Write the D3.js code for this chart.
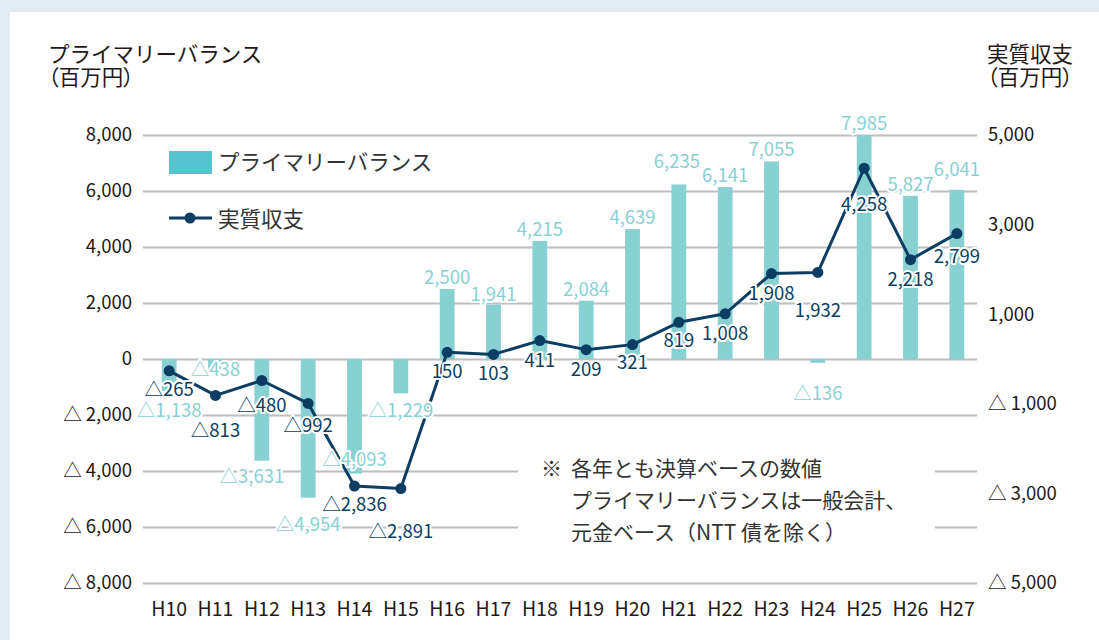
<!DOCTYPE html>
<html><head><meta charset="utf-8">
<script src="https://cdn.jsdelivr.net/npm/d3@7"></script>
<style>
html,body{margin:0;padding:0;background:#e3ebf2;}
svg{display:block;}
text{font-family:"Noto Sans CJK JP","Noto Sans",sans-serif;}
</style></head>
<body>
<svg id="chart" width="1099" height="640"></svg>
<script>
// ---- data ----
const categories = ["H10","H11","H12","H13","H14","H15","H16","H17","H18","H19","H20","H21","H22","H23","H24","H25","H26","H27"];
const primaryBalance = [-1138,-438,-3631,-4954,-4093,-1229,2500,1941,4215,2084,4639,6235,6141,7055,-136,7985,5827,6041];
const realBalance = [-265,-813,-480,-992,-2836,-2891,150,103,411,209,321,819,1008,1908,1932,4258,2218,2799];
const leftTicks = [8000,6000,4000,2000,0,-2000,-4000,-6000,-8000];
const rightTicks = [5000,3000,1000,-1000,-3000,-5000];
const seriesNames = ["プライマリーバランス","実質収支"];
const leftTitle = ["プライマリーバランス","（百万円）"];
const rightTitle = ["実質収支","（百万円）"];
const noteMark = "※";
const noteLines = ["各年とも決算ベースの数値","プライマリーバランスは一般会計、","元金ベース（NTT 債を除く）"];

// ---- label nudges (layout only) ----
const barLabelNudge = {H11:[0,-19],H10:[0,2],H12:[-10,-2],H13:[0,9],H14:[0,-32],H21:[-2,-11],H24:[0,13],H27:[0,-9],H17:[0,1]};
const lineLabelNudge = {H10:[0,-1],H11:[0,16],H12:[0,5],H13:[0,3],H14:[0,-1],H15:[0,23],H24:[0,19],H25:[0,17],H27:[0,3],H20:[0,-2],H21:[0,-1]};

const svg = d3.select("#chart");
const BAR = "#88d1d3", LEG = "#55c4cf", NAVY = "#0b3e62", GRID = "#bdbdc2", INK = "#231815";
const NUMFONT = "18.5px";

svg.append("rect").attr("x",10).attr("y",12).attr("width",1089).attr("height",628).attr("fill","#fff");

const x = d3.scaleBand().domain(categories).range([146,980]).paddingInner(0.68).paddingOuter(0.34);
const y = d3.scaleLinear().domain([-8000,8000]).range([583,135]);
const y2 = d3.scaleLinear().domain([-5000,5000]).range([583,135]);
const cx = c => x(c) + x.bandwidth()/2;
const fmt = d3.format(",");
const tri = v => v < 0 ? "△" + fmt(-v) : fmt(v);
const triAxis = v => v < 0 ? "△ " + fmt(-v) : fmt(v);

// gridlines
const gridG = svg.append("g").attr("transform","translate(977,0)")
  .call(d3.axisLeft(y).tickValues(leftTicks).tickSize(834).tickFormat(""));
gridG.select(".domain").remove();
gridG.selectAll("line").attr("stroke",GRID).attr("stroke-width",2);

// left axis
const la = svg.append("g").attr("transform","translate(143,0)")
  .call(d3.axisLeft(y).tickValues(leftTicks).tickSize(0).tickPadding(11).tickFormat(triAxis));
la.select(".domain").remove();
la.selectAll("text").attr("fill",INK).style("font-size",NUMFONT).style("font-family",'"Noto Sans CJK JP",sans-serif');

// right axis
const ra = svg.append("g").attr("transform","translate(977,0)")
  .call(d3.axisRight(y2).tickValues(rightTicks).tickSize(0).tickPadding(11).tickFormat(triAxis));
ra.select(".domain").remove();
ra.selectAll("text").attr("fill",INK).style("font-size",NUMFONT).style("font-family",'"Noto Sans CJK JP",sans-serif');

// x axis
const xa = svg.append("g").attr("transform","translate(0,583)")
  .call(d3.axisBottom(x).tickSize(0).tickPadding(19));
xa.select(".domain").remove();
xa.selectAll("text").attr("fill",INK).style("font-size","19.5px").style("font-family",'"Noto Sans CJK JP",sans-serif');

// note box (masks gridlines)
svg.append("rect").attr("x",518).attr("y",448).attr("width",417).attr("height",100).attr("fill","#fff");
svg.append("text").attr("x",541).attr("y",476).attr("fill","#333").style("font-size","21px").text(noteMark);
noteLines.forEach((t,i)=>{
  svg.append("text").attr("x",571).attr("y",476+i*32).attr("fill","#333").style("font-size","21px").text(t);
});

// bars
svg.append("g").selectAll("rect").data(categories).join("rect")
  .attr("x",c=>x(c)).attr("width",x.bandwidth())
  .attr("y",(c,i)=>y(Math.max(0,primaryBalance[i])))
  .attr("height",(c,i)=>Math.abs(y(primaryBalance[i])-y(0)))
  .attr("fill",BAR);

// line
const line = d3.line().x(d=>cx(d.c)).y(d=>y2(d.v));
const lineData = categories.map((c,i)=>({c,v:realBalance[i]}));
svg.append("path").datum(lineData).attr("d",line).attr("fill","none")
  .attr("stroke",NAVY).attr("stroke-width",3).attr("stroke-linejoin","round");
svg.append("g").selectAll("circle").data(lineData).join("circle")
  .attr("cx",d=>cx(d.c)).attr("cy",d=>y2(d.v)).attr("r",5.5).attr("fill",NAVY);

// labels
function halo(sel){
  sel.attr("stroke","#fff").attr("stroke-width",4).attr("stroke-linejoin","round").attr("paint-order","stroke");
}
const bl = svg.append("g").selectAll("text").data(categories).join("text")
  .attr("text-anchor","middle").style("font-size",NUMFONT).attr("fill",BAR)
  .attr("x",c=>cx(c)+(barLabelNudge[c]||[0,0])[0])
  .attr("y",(c,i)=>{const v=primaryBalance[i];const n=(barLabelNudge[c]||[0,0])[1];return (v>=0? y(v)-5 : y(v)+24)+n;})
  .text((c,i)=>tri(primaryBalance[i]));
halo(bl);
const ll = svg.append("g").selectAll("text").data(lineData).join("text")
  .attr("text-anchor","middle").style("font-size",NUMFONT).attr("fill",NAVY)
  .attr("x",d=>cx(d.c)+(lineLabelNudge[d.c]||[0,0])[0])
  .attr("y",d=>y2(d.v)+26+(lineLabelNudge[d.c]||[0,0])[1])
  .text(d=>tri(d.v));
halo(ll);

// legend
svg.append("rect").attr("x",169).attr("y",151).attr("width",43).attr("height",23).attr("fill",LEG);
svg.append("text").attr("x",218).attr("y",170).attr("fill","#333").style("font-size","21.5px").text(seriesNames[0]);
svg.append("line").attr("x1",169).attr("x2",212).attr("y1",218).attr("y2",218).attr("stroke",NAVY).attr("stroke-width",3);
svg.append("circle").attr("cx",190).attr("cy",218).attr("r",5.5).attr("fill",NAVY);
svg.append("text").attr("x",218).attr("y",227).attr("fill","#333").style("font-size","21.5px").text(seriesNames[1]);

// titles (two lines each, one text element)
function title(xp, lines){
  const t = svg.append("text").attr("x",xp).attr("y",62).attr("fill",INK).style("font-size","21.5px");
  t.append("tspan").attr("x",xp).attr("y",62).text(lines[0]);
  t.append("tspan").attr("x",xp).attr("y",85).style("font-feature-settings",'"palt"').text(lines[1]);
}
title(48, leftTitle);
title(987, rightTitle);
</script>
</body></html>
